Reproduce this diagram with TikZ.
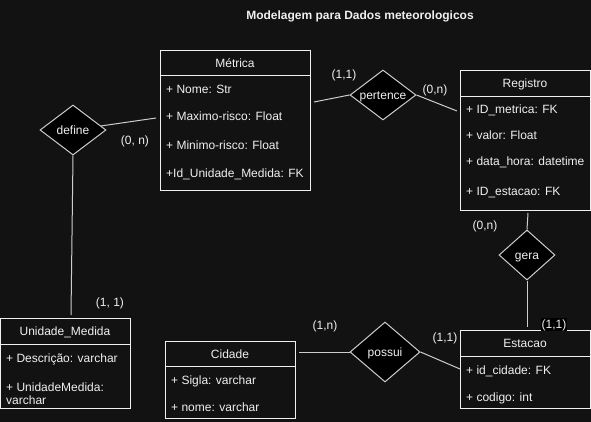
\documentclass[tikz,border=0pt]{standalone}
\usepackage{fontspec}
\setmainfont{Liberation Sans}
\usetikzlibrary{shapes.geometric,calc}
\definecolor{bg}{RGB}{18,18,18}
\definecolor{fg}{RGB}{240,240,240}
\definecolor{ln}{RGB}{205,205,205}
\tikzset{
  txt/.style={text=fg, inner sep=0pt, text height=8.6pt, text depth=0pt},
  entity/.style={draw=fg, fill=bg, line width=1pt, anchor=north west, inner sep=0pt},
  hdr/.style={txt},
  attr/.style={txt, anchor=west},
  rel/.style={diamond, draw=ln, fill=black, line width=1pt, inner sep=0pt, minimum width=66pt, minimum height=50pt},
  card/.style={txt, inner sep=1pt},
  conn/.style={draw=ln, line width=1pt},
}
\begin{document}
\begin{tikzpicture}[x=1pt,y=-1pt,font=\fontsize{12}{14}\selectfont]
\fill[bg] (0,0) rectangle (591,422);
\useasboundingbox (0,0) rectangle (591,422);

\node[txt, font=\fontsize{12}{14}\selectfont\bfseries] (title) at (360,15.5) {Modelagem para Dados meteorologicos};

% Metrica
\node[entity, minimum width=150pt, minimum height=140pt] (metrica) at (160,50) {};
\draw[fg, line width=1pt] ($(metrica.north west)+(0,26)$) -- ($(metrica.north east)+(0,26)$);
\node[hdr] (mh) at (235,63.5) {Métrica};
\node[attr] (m1) at (166,89.7) {+ Nome: Str};
\node[attr] (m2) at (166,116.7) {+ Maximo-risco: Float};
\node[attr] (m3) at (166,145.7) {+ Minimo-risco: Float};
\node[attr] (m4) at (166,173.7) {+Id\_Unidade\_Medida: FK};

% Registro
\node[entity, minimum width=130pt, minimum height=140pt] (registro) at (460,70) {};
\draw[fg, line width=1pt] ($(registro.north west)+(0,26.5)$) -- ($(registro.north east)+(0,26.5)$);
\node[hdr] (rh) at (525,83) {Registro};
\node[attr] (r1) at (466,109.7) {+ ID\_metrica: FK};
\node[attr] (r2) at (466,135.7) {+ valor: Float};
\node[attr] (r3) at (466,161.7) {+ data\_hora: datetime};
\node[attr] (r4) at (466,190.7) {+ ID\_estacao: FK};

% Unidade_Medida
\node[entity, minimum width=130pt, minimum height=90pt] (unidade) at (0,318) {};
\draw[fg, line width=1pt] ($(unidade.north west)+(0,26)$) -- ($(unidade.north east)+(0,26)$);
\node[hdr] (uh) at (65,331) {Unidade\_Medida};
\node[attr] (u1) at (6,358) {+ Descrição: varchar};
\node[attr] (u2) at (6,387) {+ UnidadeMedida:};
\node[attr] (u3) at (6,399.7) {varchar};

% Cidade
\node[entity, minimum width=130pt, minimum height=77pt] (cidade) at (165,341) {};
\draw[fg, line width=1pt] ($(cidade.north west)+(0,25)$) -- ($(cidade.north east)+(0,25)$);
\node[hdr] (ch) at (230,353.7) {Cidade};
\node[attr] (c1) at (171,379.7) {+ Sigla: varchar};
\node[attr] (c2) at (171,406.7) {+ nome: varchar};

% Estacao
\node[entity, minimum width=130pt, minimum height=78pt] (estacao) at (460,330) {};
\draw[fg, line width=1pt] ($(estacao.north west)+(0,26)$) -- ($(estacao.north east)+(0,26)$);
\node[hdr] (eh) at (525,342.7) {Estacao};
\node[attr] (e1) at (466,369.7) {+ id\_cidade: FK};
\node[attr] (e2) at (466,396.7) {+ codigo: int};

% relationships
\node[rel, label={[txt]center:define}] (define) at (73,130) {};
\node[rel, label={[txt]center:pertence}] (pertence) at (383,95) {};
\node[rel, minimum width=56pt, label={[txt]center:gera}] (gera) at (527,255) {};
\node[rel, minimum width=70pt, minimum height=60pt, label={[txt]center:possui}] (possui) at (385,352) {};

% connectors
\draw[conn] (define) -- ($(metrica.north west)+(-4,68)$);
\draw[conn] (define.south) -- ($(unidade.north west)+(71,-3)$);
\draw[conn] ($(metrica.north east)+(3,52)$) -- (pertence.west);
\draw[conn] (pertence.east) -- ($(registro.north west)+(-3,41)$);
\draw[conn] ($(registro.south west)+(68,2)$) -- (gera.north);
\draw[conn] (gera.south) -- ($(estacao.north west)+(67,-3)$);
\draw[conn] ($(cidade.north east)+(3,11)$) -- (possui.west);
\draw[conn] (possui.east) -- ($(estacao.north west)+(0,39)$);

% cardinalities
\node[card] (k1) at (135,140.5) {(0, n)};
\node[card] (k2) at (110,302.5) {(1, 1)};
\node[card] (k3) at (344,74.5) {(1,1)};
\node[card] (k4) at (435,89.5) {(0,n)};
\node[card] (k5) at (485,225.5) {(0,n)};
\node[card, fill=black, inner ysep=2pt] (k6) at (554,324.5) {(1,1)};
\node[card] (k7) at (325,325.5) {(1,n)};
\node[card] (k8) at (445,337.5) {(1,1)};
\end{tikzpicture}
\end{document}
